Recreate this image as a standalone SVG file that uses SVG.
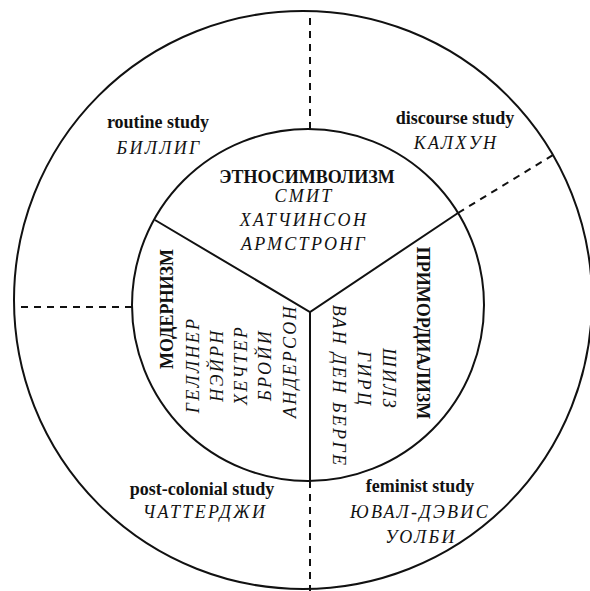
<svg xmlns="http://www.w3.org/2000/svg" width="590" height="591" viewBox="0 0 590 591">
  <style>
    .ring { fill: none; stroke: #111; stroke-width: 2; }
    .solid { stroke: #111; stroke-width: 2; fill: none; }
    .dash { stroke: #111; stroke-width: 2; stroke-dasharray: 7 6; fill: none; }
    text { font-family: "Liberation Serif", "Times New Roman", serif; fill: #111; text-anchor: middle; }
    .head { font-weight: bold; font-size: 18px; }
    .name { font-style: italic; font-size: 18px; letter-spacing: 2.3px; }
  </style>

  <rect width="590" height="591" fill="#fff"/>

  <!-- rings -->
  <g id="rings">
    <circle class="ring" cx="303" cy="300" r="289"/>
    <circle class="ring" cx="308" cy="305" r="176"/>
  </g>

  <!-- dividing lines -->
  <g id="connectors">
    <polyline class="solid" points="155,220 310,312 458,213"/>
    <line class="solid" x1="310" y1="312" x2="310" y2="481"/>
    <line class="dash" x1="310" y1="129" x2="310" y2="11"/>
    <line class="dash" x1="132" y1="307" x2="14" y2="307"/>
    <line class="dash" x1="310" y1="481" x2="310" y2="591"/>
    <line class="dash" x1="458" y1="213" x2="553" y2="155"/>
  </g>

  <!-- inner sectors -->
  <g id="ethnosymbolism">
    <text class="head" x="307" y="183">ЭТНОСИМВОЛИЗМ</text>
    <text class="name" x="304" y="202">СМИТ</text>
    <text class="name" x="304" y="226">ХАТЧИНСОН</text>
    <text class="name" x="304" y="250">АРМСТРОНГ</text>
  </g>

  <g id="modernism">
    <text class="head" transform="translate(173,309) rotate(-90)">МОДЕРНИЗМ</text>
    <text class="name" transform="translate(199,365) rotate(-90)">ГЕЛЛНЕР</text>
    <text class="name" transform="translate(223,365) rotate(-90)">НЭЙРН</text>
    <text class="name" transform="translate(247,365) rotate(-90)">ХЕЧТЕР</text>
    <text class="name" transform="translate(271,365) rotate(-90)">БРОЙИ</text>
    <text class="name" transform="translate(296,361) rotate(-90)">АНДЕРСОН</text>
  </g>

  <g id="primordialism">
    <text class="head" transform="translate(417,333) rotate(90)">ПРИМОРДИАЛИЗМ</text>
    <text class="name" transform="translate(383,379) rotate(90)">ШИЛЗ</text>
    <text class="name" transform="translate(358,379) rotate(90)">ГИРЦ</text>
    <text class="name" transform="translate(333,386) rotate(90)">ВАН ДЕН БЕРГЕ</text>
  </g>

  <!-- outer ring sectors -->
  <g id="routine-study">
    <text class="head" x="158" y="128">routine study</text>
    <text class="name" x="159" y="154">БИЛЛИГ</text>
  </g>

  <g id="discourse-study">
    <text class="head" x="455" y="124">discourse study</text>
    <text class="name" x="456" y="149">КАЛХУН</text>
  </g>

  <g id="post-colonial-study">
    <text class="head" x="202" y="495">post-colonial study</text>
    <text class="name" x="205" y="518">ЧАТТЕРДЖИ</text>
  </g>

  <g id="feminist-study">
    <text class="head" x="420" y="492">feminist study</text>
    <text class="name" x="420" y="518">ЮВАЛ-ДЭВИС</text>
    <text class="name" x="421" y="543">УОЛБИ</text>
  </g>
</svg>
